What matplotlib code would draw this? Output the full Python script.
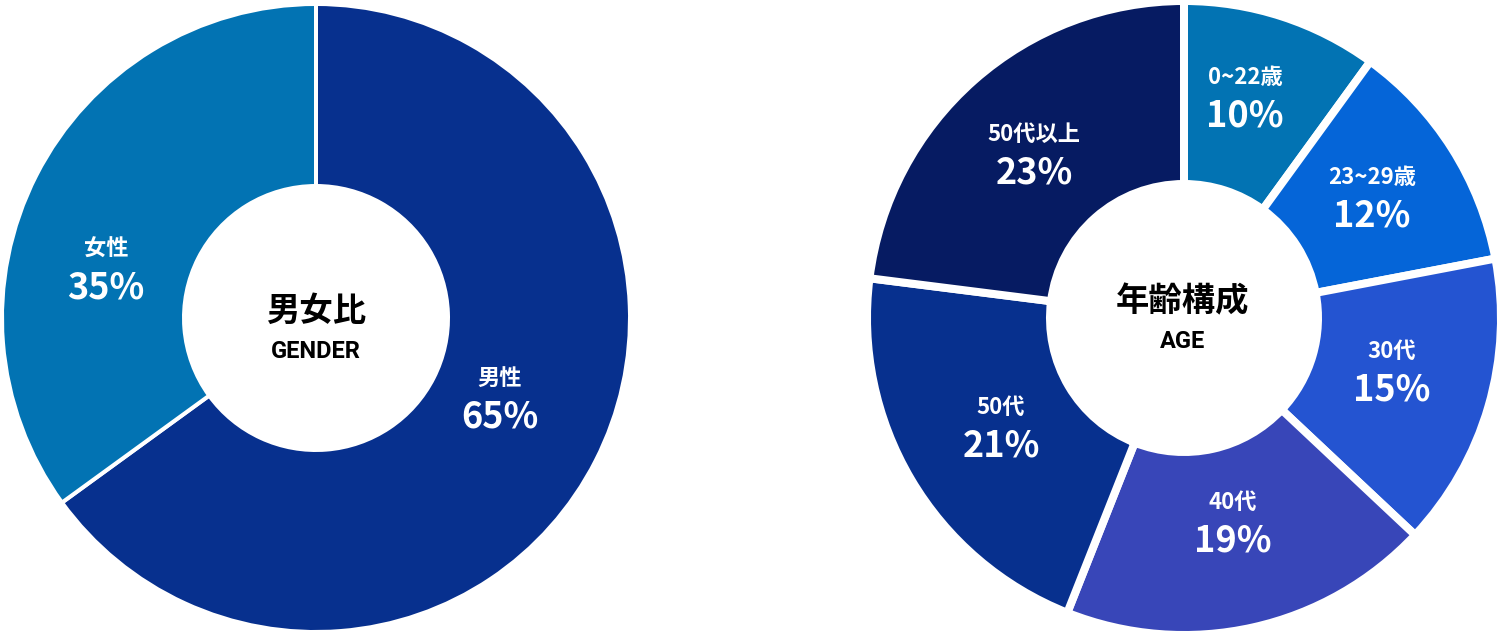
import matplotlib.pyplot as plt

plt.rcParams['font.family'] = ['Noto Sans CJK JP', 'DejaVu Sans']

# gender donut
gender_labels = ['男性', '女性']
gender_values = [65, 35]
gender_colors = ['#07308e', '#0273b3']

# age donut
age_labels = ['0~22歳', '23~29歳', '30代', '40代', '50代', '50代以上']
age_values = [10, 12, 15, 19, 21, 23]
age_colors = ['#0273b3', '#0565d8', '#2454d1', '#3846b8', '#07308e', '#061b62']

W, H = 1500, 634


def px(y):
    # image pixel row -> axes y
    return H - y


def donut(ax, values, colors, center, radius, hole, gap):
    ax.pie(values, colors=colors, startangle=90, counterclock=False,
           center=center, radius=radius + gap / 2,
           wedgeprops=dict(width=radius - hole, edgecolor='white',
                           linewidth=gap * 0.72))


def label(ax, x, y, name, value):
    ax.text(x, px(y - 20), name, color='white', fontsize=16, fontweight='bold',
            ha='center', va='center')
    ax.text(x, px(y + 19), f'{value}%', color='white', fontsize=26,
            fontweight='bold', ha='center', va='center')


fig = plt.figure(figsize=(W / 100, H / 100), dpi=100)
ax = fig.add_axes([0, 0, 1, 1])

donut(ax, gender_values, gender_colors, (316, px(318)), 312, 130, 4)
donut(ax, age_values, age_colors, (1184, px(318)), 313, 130, 8)

ax.set_xlim(0, W)
ax.set_ylim(0, H)
ax.set_aspect('equal')
ax.axis('off')

# label positions (image pixels)
gender_pos = [(500, 398), (106, 269)]
age_pos = [(1245, 97), (1372, 197), (1392, 371), (1233, 522), (1001, 427), (1034, 154)]

for (x, y), name, v in zip(gender_pos, gender_labels, gender_values):
    label(ax, x, y, name, v)
for (x, y), name, v in zip(age_pos, age_labels, age_values):
    label(ax, x, y, name, v)

ax.text(316, px(311), '男女比', fontsize=24, fontweight='bold', ha='center', va='center')
ax.text(316, px(352), 'GENDER', fontsize=17, fontweight='bold', ha='center', va='center',
        family=['Roboto', 'DejaVu Sans'])
ax.text(1183, px(302), '年齢構成', fontsize=24, fontweight='bold', ha='center', va='center')
ax.text(1183, px(342), 'AGE', fontsize=17, fontweight='bold', ha='center', va='center',
        family=['Roboto', 'DejaVu Sans'])

fig.savefig('out.png', dpi=100)
